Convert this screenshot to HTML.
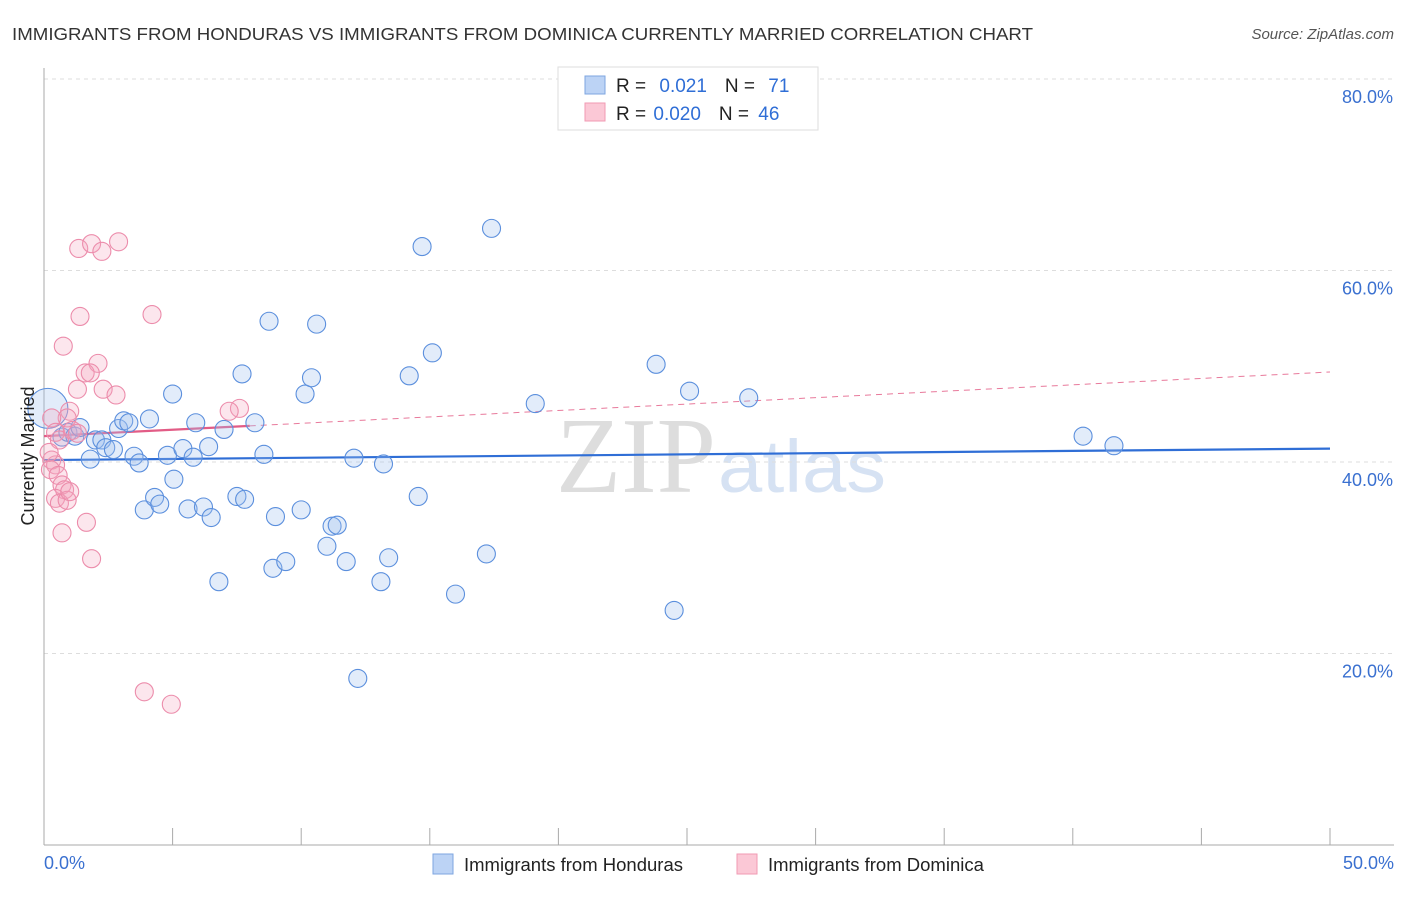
<!DOCTYPE html>
<html><head><meta charset="utf-8"><style>
body{margin:0;background:#fff;font-family:"Liberation Sans",sans-serif}
</style></head><body>
<svg width="1406" height="892" xmlns="http://www.w3.org/2000/svg" id="chart" font-family="Liberation Sans, sans-serif">
<text x="12" y="40" font-size="17.5" fill="#333" textLength="1021" lengthAdjust="spacingAndGlyphs">IMMIGRANTS FROM HONDURAS VS IMMIGRANTS FROM DOMINICA CURRENTLY MARRIED CORRELATION CHART</text>
<text x="1394" y="39" font-size="15" fill="#555" text-anchor="end" font-style="italic">Source: ZipAtlas.com</text>
<text x="716" y="492" font-size="108" fill="#ddd" text-anchor="end" font-family="Liberation Serif, serif" textLength="160" lengthAdjust="spacingAndGlyphs">ZIP</text>
<text x="718" y="492" font-size="74" fill="#d6e2f3" textLength="168" lengthAdjust="spacingAndGlyphs">atlas</text>
<g id="grid"></g><g id="axes"></g><g id="trend"></g><g id="pts"></g>
<text transform="translate(34,456) rotate(-90)" font-size="18" fill="#222" text-anchor="middle">Currently Married</text>
<text x="44" y="869" font-size="18" fill="#3a70d0">0.0%</text>
<text x="1394" y="869" font-size="18" fill="#3a70d0" text-anchor="end">50.0%</text>
<g>
<rect x="558" y="67" width="260" height="63" fill="#fff" stroke="#ddd"/>
<rect x="585" y="76" width="20" height="18" fill="#bcd3f5" stroke="#7ea6e0"/>
<rect x="585" y="103" width="20" height="18" fill="#fbc8d6" stroke="#f09ab3"/>
<text x="616" y="92" font-size="19" fill="#222">R = <tspan fill="#2f6ed6" dx="8">0.021</tspan><tspan dx="18" fill="#222">N = </tspan><tspan dx="8" fill="#2f6ed6">71</tspan></text>
<text x="616" y="120" font-size="19" fill="#222">R = <tspan fill="#2f6ed6" dx="2">0.020</tspan><tspan dx="18" fill="#222">N = </tspan><tspan dx="4" fill="#2f6ed6">46</tspan></text>
</g>
<g>
<rect x="433" y="854" width="20" height="20" fill="#bcd3f5" stroke="#7ea6e0"/>
<text x="464" y="871" font-size="18.5" fill="#222">Immigrants from Honduras</text>
<rect x="737" y="854" width="20" height="20" fill="#fbc8d6" stroke="#f09ab3"/>
<text x="768" y="871" font-size="18.5" fill="#222">Immigrants from Dominica</text>
</g>
</svg>
<script>
const yTicks=[20,40,60,80];
const xTicks=[0,5,10,15,20,25,30,35,40,45,50];
const blueX=[0.15,0.7,0.93,1.2,1.4,2.0,2.25,2.4,2.7,1.8,2.9,3.1,3.3,3.5,3.7,4.1,3.9,4.3,4.5,4.8,5.0,5.05,5.4,5.6,5.8,5.9,6.2,6.4,6.5,6.8,7.0,7.5,7.7,7.8,8.2,8.55,8.75,9.0,8.9,9.4,10.0,10.15,10.4,10.6,11.0,11.2,11.4,11.75,12.05,12.2,13.1,13.2,13.4,14.2,14.55,14.7,15.1,16.0,17.2,17.4,19.1,23.8,24.5,25.1,27.4,40.4,41.6];
const blueY=[45.6,42.6,43.1,42.7,43.6,42.3,42.3,41.5,41.3,40.3,43.5,44.3,44.1,40.6,39.9,44.5,35.0,36.3,35.6,40.7,47.1,38.2,41.4,35.1,40.5,44.1,35.3,41.6,34.2,27.5,43.4,36.4,49.2,36.1,44.1,40.8,54.7,34.3,28.9,29.6,35.0,47.1,48.8,54.4,31.2,33.3,33.4,29.6,40.4,17.4,27.5,39.8,30.0,49.0,36.4,62.5,51.4,26.2,30.4,64.4,46.1,50.2,24.5,47.4,46.7,42.7,41.7];
const pinkX=[1.35,1.85,2.25,2.9,1.4,4.2,0.75,2.1,1.6,1.8,1.3,2.3,2.8,1.0,0.9,0.3,7.6,7.2,0.45,0.6,1.1,0.3,0.45,0.25,0.55,0.7,0.8,0.45,0.6,0.9,1.0,1.65,0.7,1.85,3.9,4.95,1.3,0.2];
const pinkY=[62.3,62.8,62.0,63.0,55.2,55.4,52.1,50.3,49.3,49.3,47.6,47.6,47.0,45.3,44.6,44.6,45.6,45.3,43.1,42.3,43.3,40.2,39.7,39.2,38.6,37.6,37.1,36.2,35.7,36.0,36.9,33.7,32.6,29.9,16.0,14.7,43.0,41.0];
const blueTrend=[40.2,41.4];
const pinkTrend=[42.7,49.4];
const pinkSolidEnd=8;
const NS='http://www.w3.org/2000/svg';
const X=v=>44+v/50*1286, Y=v=>845-v*9.575;
function mk(t,a,p){const e=document.createElementNS(NS,t);for(const k in a)e.setAttribute(k,a[k]);document.getElementById(p).appendChild(e);return e;}
yTicks.forEach(t=>{
 const l=mk('line',{x1:44,x2:1394,y1:Y(t),y2:Y(t),stroke:'#ddd','stroke-dasharray':'4,4'},'grid');
 
 
 const tx=mk('text',{x:1393,y:Y(t)+24,'font-size':18,fill:'#3a70d0','text-anchor':'end'},'grid');
 tx.textContent=t.toFixed(1)+'%';
 
 
});
const ax=mk('line',{x1:44,x2:44,y1:68,y2:845,stroke:'#aaa'},'axes');


const bx=mk('line',{x1:44,x2:1394,y1:845,y2:845,stroke:'#aaa'},'axes');


xTicks.forEach(t=>{
 const l=mk('line',{x1:X(t),x2:X(t),y1:828,y2:845,stroke:'#aaa'},'axes');
 
 
});
const ln=(a,b,d,c,w,dash,name)=>{const e=mk('line',{x1:X(a),x2:X(b),y1:Y(d(a)),y2:Y(d(b)),stroke:c,'stroke-width':w},'trend');if(dash)e.setAttribute('stroke-dasharray',dash);
 
 };
const bt=x=>blueTrend[0]+(blueTrend[1]-blueTrend[0])*x/50;
const pt=x=>pinkTrend[0]+(pinkTrend[1]-pinkTrend[0])*x/50;
ln(pinkSolidEnd,50,pt,'#e8799b',1,'6,5','pink-trend-dashed');
blueX.forEach((x,i)=>{
 const c=mk('circle',{cx:X(x),cy:Y(blueY[i]),r:i==0?20:9,fill:'rgba(160,192,238,0.3)',stroke:'#5b8fdd','stroke-width':1.1},'pts');
 
 
});
pinkX.forEach((x,i)=>{
 const c=mk('circle',{cx:X(x),cy:Y(pinkY[i]),r:9,fill:'rgba(245,165,190,0.28)',stroke:'#ec8cab','stroke-width':1.1},'pts');
 
 
});
ln(0,50,bt,'#2f6ed6',2.2,null,'honduras-trend-line');
ln(0,pinkSolidEnd,pt,'#e25c86',2.2,null,'dominica-trend-line');
</script>
</body></html>
